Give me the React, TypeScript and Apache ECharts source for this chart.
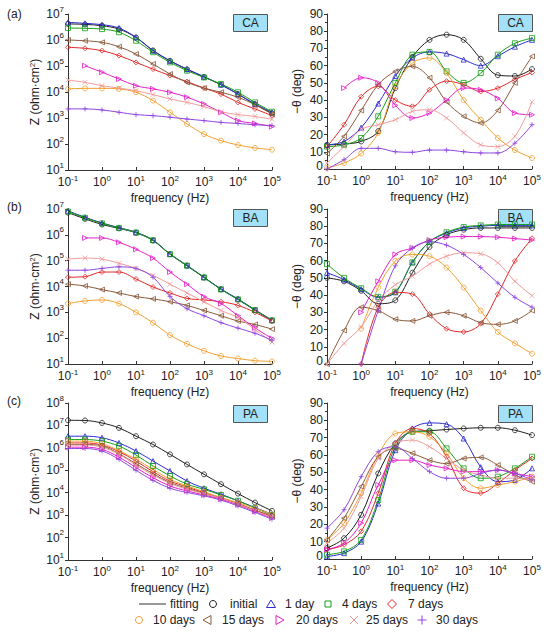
import React, { useEffect, useRef } from 'react';
import * as echarts from 'echarts';

// ---------- data ----------
const FREQ = [0.1, 0.316, 1, 3.16, 10, 31.6, 100, 316, 1000, 3160, 10000, 31600, 100000];
const SERIES_NAMES = ['initial', '1 day', '4 days', '7 days', '10 days', '15 days', '20 days', '25 days', '30 days'];
const COLORS = ['#1e1e1e', '#2b2bd0', '#14a014', '#e02828', '#f2a031', '#8b5a3c', '#e51fc9', '#f09a9a', '#8f45e0'];
const PANEL_TAGS = ['CA', 'BA', 'PA'];
const ROW_LABELS = ['(a)', '(b)', '(c)'];

// log10 |Z| (ohm·cm²), rows follow SERIES_NAMES order
const CA_LOGZ: (number | null)[][] = [
  [6.62, 6.6, 6.55, 6.42, 6.1, 5.6, 5.2, 4.87, 4.58, 4.28, 3.92, 3.53, 3.18],
  [6.68, 6.64, 6.59, 6.46, 6.1, 5.59, 5.2, 4.88, 4.59, 4.28, 3.92, 3.54, 3.22],
  [6.46, 6.45, 6.42, 6.3, 5.97, 5.53, 5.14, 4.82, 4.56, 4.31, 3.99, 3.6, 3.24],
  [5.72, 5.68, 5.59, 5.4, 5.14, 4.88, 4.63, 4.4, 4.15, 3.92, 3.6, 3.35, 3.09],
  [4.12, 4.14, 4.14, 4.12, 3.99, 3.67, 3.22, 2.77, 2.38, 2.13, 1.96, 1.85, 1.78],
  [6.0, 5.97, 5.91, 5.74, 5.46, 5.08, 4.69, 4.37, 4.15, 3.99, 3.8, 3.51, 3.15],
  [null, 5.01, 4.76, 4.5, 4.24, 4.12, 3.99, 3.8, 3.54, 3.22, 2.9, 2.79, 2.67],
  [4.46, 4.37, 4.24, 4.15, 4.05, 3.9, 3.73, 3.6, 3.44, 3.24, 3.13, 3.06, 2.95],
  [3.35, 3.35, 3.31, 3.22, 3.13, 3.09, 3.03, 2.96, 2.9, 2.83, 2.79, 2.74, 2.71],
];
const BA_LOGZ: (number | null)[][] = [
  [6.86, 6.62, 6.4, 6.25, 6.08, 5.78, 5.25, 4.8, 4.35, 3.89, 3.5, 3.08, 2.68],
  [6.93, 6.68, 6.46, 6.28, 6.1, 5.8, 5.26, 4.82, 4.36, 3.9, 3.52, 3.1, 2.7],
  [6.9, 6.66, 6.44, 6.27, 6.09, 5.79, 5.25, 4.81, 4.35, 3.89, 3.5, 3.09, 2.69],
  [4.36, 4.38, 4.56, 4.56, 4.29, 3.98, 3.75, 3.54, 3.48, 3.41, 3.27, 3.0, 2.66],
  [3.34, 3.44, 3.48, 3.34, 3.0, 2.6, 2.12, 1.78, 1.51, 1.31, 1.21, 1.13, 1.1],
  [4.09, 4.02, 3.88, 3.75, 3.61, 3.52, 3.41, 3.27, 3.07, 2.87, 2.66, 2.53, 2.35],
  [null, 5.88, 5.88, 5.71, 5.44, 5.1, 4.56, 4.09, 3.61, 3.34, 2.87, 2.4, 1.99],
  [5.06, 5.1, 5.06, 4.9, 4.7, 4.43, 4.09, 3.75, 3.41, 3.07, 2.8, 2.33, 1.85],
  [4.63, 4.63, 4.7, 4.76, 4.7, 4.36, 3.61, 3.14, 2.87, 2.6, 2.39, 2.19, 1.92],
];
const PA_LOGZ: (number | null)[][] = [
  [7.23, 7.22, 7.11, 6.89, 6.52, 6.15, 5.71, 5.26, 4.82, 4.38, 3.96, 3.56, 3.19],
  [6.52, 6.52, 6.45, 6.22, 5.86, 5.41, 4.97, 4.52, 4.2, 3.93, 3.64, 3.34, 3.04],
  [6.37, 6.37, 6.3, 6.08, 5.68, 5.19, 4.75, 4.38, 4.15, 3.9, 3.64, 3.31, 3.01],
  [6.22, 6.22, 6.12, 5.83, 5.41, 4.94, 4.52, 4.26, 4.0, 3.78, 3.52, 3.22, 2.97],
  [6.3, 6.3, 6.18, 5.88, 5.49, 5.04, 4.6, 4.3, 4.05, 3.78, 3.56, 3.31, 3.04],
  [6.15, 6.15, 6.08, 5.74, 5.29, 4.85, 4.45, 4.2, 3.96, 3.75, 3.49, 3.22, 2.93],
  [6.03, 6.03, 5.93, 5.59, 5.12, 4.67, 4.3, 4.08, 3.9, 3.71, 3.46, 3.16, 2.87],
  [6.12, 6.12, 6.03, 5.71, 5.23, 4.79, 4.41, 4.15, 3.96, 3.75, 3.49, 3.19, 2.9],
  [5.97, 5.97, 5.86, 5.49, 5.0, 4.55, 4.2, 4.01, 3.86, 3.67, 3.41, 3.12, 2.82],
];

// -theta (deg), rows follow SERIES_NAMES order
const CA_PHASE: (number | null)[][] = [
  [14, 14.5, 16, 22, 47, 65, 75, 78, 75, 64, 54.5, 54, 58],
  [14, 16, 24, 38, 54, 64.5, 68, 67, 63.5, 60, 65.5, 71, 75],
  [13, 14, 18, 30.6, 50, 66.4, 68, 56.7, 50, 55.7, 66.4, 73, 76],
  [13, 25.7, 42, 48, 40, 36.4, 46, 51, 49, 45, 47, 52, 56],
  [0.6, 3.5, 9, 21, 48, 61.5, 64.5, 55.7, 40, 28.6, 18, 11, 6.4],
  [9, 19, 34, 49, 56.7, 59.6, 53, 39, 30.6, 26.7, 34, 50, 65.4],
  [null, 47, 53, 50, 37, 29.6, 32.5, 40, 47, 46, 41, 32.5, 31.5],
  [3.5, 13, 23, 25.7, 28.6, 33.5, 34.4, 29.6, 21, 14, 13, 19, 39],
  [0, 5.4, 12, 12, 10, 9.7, 11, 11, 10, 9.3, 9.3, 15, 25.7],
];
const BA_PHASE: (number | null)[][] = [
  [50, 48, 42.5, 35, 37, 53, 68, 75, 78, 79, 79, 79, 79],
  [53, 49, 43.5, 38.7, 41.6, 59, 71, 76, 79, 80, 80.5, 80.5, 80.5],
  [58, 50, 44, 39, 42, 59, 71, 76.5, 79.5, 80.5, 81, 81, 81],
  [null, null, 0, 33, 41.6, 40.6, 29, 20.5, 18.6, 23.4, 40.6, 59.8, 73],
  [null, null, 20.5, 44.4, 59.8, 63.6, 62.6, 56, 44.4, 31, 18.6, 12, 6],
  [0, 19.5, 33, 31, 26, 25, 28, 30, 28, 24, 23, 25, 31],
  [null, null, 30, 48, 63.6, 67.4, 72, 73.6, 74, 74, 73.6, 72.8, 72],
  [0, 12, 21.5, 36.8, 46, 51, 58, 62.6, 64.6, 64, 58.8, 48, 39.7],
  [null, null, 0, 31, 57, 67.4, 71, 69, 63.6, 56, 47, 38.7, 33],
];
const PA_PHASE: (number | null)[][] = [
  [6.3, 12, 25.5, 49.4, 66.7, 73.4, 74, 74.7, 75.3, 75.7, 75.7, 74.3, 71.5],
  [1.5, 3.4, 10, 32, 62.8, 75.3, 78.5, 77.8, 69.5, 53, 44.6, 45.6, 52.3],
  [2.5, 4.4, 11, 34, 64.8, 73.4, 73.4, 63.8, 52.3, 46.6, 47.5, 52.3, 59],
  [5.4, 8.2, 16, 38, 66.7, 75.3, 72.4, 59, 40.8, 38, 43.7, 51.3, 58],
  [11, 20.7, 38, 60, 72.4, 73.4, 70.5, 61, 46.6, 40.8, 42.7, 44.6, 47.5],
  [11, 23.6, 41.8, 59, 63.8, 61, 57, 55, 58, 58.6, 54.2, 48.5, 44.6],
  [5.4, 9.2, 20.7, 42.7, 57, 57, 54.2, 52.3, 50.4, 50.4, 51.3, 49.4, 47.5],
  [9.2, 17.8, 36, 58, 66.7, 68.6, 64.8, 58, 51.3, 48.5, 46.6, 46.6, 45.6],
  [17.8, 28.4, 47.5, 61.9, 64.8, 58, 50.4, 46.6, 46.6, 49.4, 51.3, 49.4, 45.6],
];

// ---------- styling ----------
const FONT = '"Liberation Sans", Arial, Helvetica, sans-serif';
const TEXT = '#222';
const AXIS = '#333';
const SYMBOLS = [
  'circle',
  'triangle',
  'rect',
  'diamond',
  'circle',
  'path://M0,5L10,0L10,10Z',
  'path://M10,5L0,0L0,10Z',
  'path://M0,0L10,10M10,0L0,10',
  'path://M5,0L5,10M0,5L10,5',
];

const GRIDS = [
  { left: 68, top: 14, width: 204, height: 156 },
  { left: 327, top: 14, width: 205, height: 155 },
  { left: 68, top: 209, width: 204, height: 155 },
  { left: 327, top: 209, width: 205, height: 155 },
  { left: 68, top: 403, width: 204, height: 157 },
  { left: 327, top: 403, width: 205, height: 156 },
];

const RICH_Y = {
  b: { fontSize: 12, lineHeight: 12, fontFamily: FONT, color: TEXT, verticalAlign: 'bottom' },
  s: { fontSize: 8, lineHeight: 8, fontFamily: FONT, color: TEXT, padding: [0, 0, 7, 0], verticalAlign: 'bottom' },
};
const RICH_X = {
  b: { fontSize: 12, lineHeight: 12, fontFamily: FONT, color: TEXT, verticalAlign: 'bottom' },
  s: { fontSize: 8, lineHeight: 8, fontFamily: FONT, color: TEXT, padding: [0, 0, 6, 0], verticalAlign: 'bottom' },
};
const RICH_PHASE = {
  n: { fontSize: 12, lineHeight: 12, fontFamily: FONT, color: TEXT },
  z: { fontSize: 12, lineHeight: 12, fontFamily: FONT, color: TEXT, padding: [0, 0, 6, 0] },
};

function powLabel(v: number) {
  const e = Math.round(Math.log10(v));
  return `{b|10}{s|${e}}`;
}
function phaseLabel(v: number) {
  return v === 0 ? '{z|0}' : `{n|${v}}`;
}

function buildOption() {
  const zSets = [CA_LOGZ, BA_LOGZ, PA_LOGZ];
  const pSets = [CA_PHASE, BA_PHASE, PA_PHASE];
  const zMax = [1e7, 1e7, 1e8];

  const xAxis: any[] = [];
  const yAxis: any[] = [];
  const series: any[] = [];

  GRIDS.forEach((_, gi) => {
    const row = Math.floor(gi / 2);
    const isZ = gi % 2 === 0;
    xAxis.push({
      type: 'log',
      logBase: 10,
      gridIndex: gi,
      min: 0.1,
      max: 100000,
      name: 'frequency (Hz)',
      nameLocation: 'middle',
      nameGap: 22,
      nameTextStyle: { fontFamily: FONT, fontSize: 12, color: TEXT },
      axisLine: { show: true, lineStyle: { color: AXIS, width: 1 } },
      axisTick: { show: true, inside: true, length: 3, lineStyle: { color: AXIS } },
      splitLine: { show: false },
      axisLabel: { formatter: powLabel, rich: RICH_X, margin: 6, showMinLabel: true, showMaxLabel: true },
    });
    if (isZ) {
      yAxis.push({
        type: 'log',
        logBase: 10,
        gridIndex: gi,
        min: 10,
        max: zMax[row],
        name: 'Z (ohm·cm{s|2})',
        nameLocation: 'middle',
        nameGap: 26,
        nameTextStyle: {
          fontFamily: FONT,
          fontSize: 12,
          color: TEXT,
          rich: { s: { fontSize: 8, fontFamily: FONT, color: TEXT, padding: [0, 0, 6, 0], verticalAlign: 'bottom' } },
        },
        axisLine: { show: true, lineStyle: { color: AXIS, width: 1 } },
        axisTick: { show: true, length: 3, lineStyle: { color: AXIS } },
        splitLine: { show: false },
        axisLabel: { formatter: powLabel, rich: RICH_Y, margin: 4, showMinLabel: true, showMaxLabel: true },
      });
    } else {
      yAxis.push({
        type: 'value',
        gridIndex: gi,
        min: 0,
        max: 90,
        interval: 10,
        name: '−θ (deg)',
        nameLocation: 'middle',
        nameGap: 24,
        nameTextStyle: { fontFamily: FONT, fontSize: 12, color: TEXT },
        axisLine: { show: true, lineStyle: { color: AXIS, width: 1 } },
        axisTick: { show: true, length: 3, lineStyle: { color: AXIS } },
        minorTick: { show: true, splitNumber: 2, length: 2, lineStyle: { color: AXIS } },
        splitLine: { show: false },
        axisLabel: { formatter: phaseLabel, rich: RICH_PHASE, margin: 4 },
      });
    }

    const sets = isZ ? zSets[row] : pSets[row];
    sets.forEach((vals, si) => {
      const pts: [number, number][] = [];
      vals.forEach((v, i) => {
        if (v === null) return;
        pts.push([FREQ[i], isZ ? Math.pow(10, v) : v]);
      });
      const color = COLORS[si];
      series.push({
        type: 'line',
        name: 'fit ' + SERIES_NAMES[si],
        xAxisIndex: gi,
        yAxisIndex: gi,
        data: pts,
        smooth: 0.35,
        showSymbol: false,
        symbol: 'none',
        silent: true,
        lineStyle: { color, width: 1 },
        z: 2,
      });
      series.push({
        type: 'scatter',
        name: SERIES_NAMES[si],
        xAxisIndex: gi,
        yAxisIndex: gi,
        data: pts,
        symbol: SYMBOLS[si],
        symbolSize: 5,
        itemStyle: { color: 'rgba(255,255,255,0)', borderColor: color, borderWidth: 1 },
        z: 3,
      });
    });
  });

  const graphic: any[] = [];
  // row labels
  const labelYs = [15, 208, 402];
  ROW_LABELS.forEach((t, r) => {
    graphic.push({
      type: 'text',
      left: 7,
      top: labelYs[r] - 7,
      style: { text: t, font: `12px ${FONT}`, fill: TEXT },
    });
  });
  // tag boxes
  const boxYs = [14, 209, 405];
  PANEL_TAGS.forEach((tag, r) => {
    [233, 498].forEach((bx) => {
      graphic.push({
        type: 'group',
        left: bx,
        top: boxYs[r],
        children: [
          {
            type: 'rect',
            shape: { x: 0, y: 0, width: 34, height: 17 },
            style: { fill: '#a2e1f7', stroke: '#555', lineWidth: 1 },
          },
          {
            type: 'text',
            x: 17,
            y: 8.5,
            style: { text: tag, font: `12px ${FONT}`, fill: TEXT, align: 'center', verticalAlign: 'middle' },
          },
        ],
      });
    });
  });

  // legend
  const legendText = (t: string, x: number, y: number) => ({
    type: 'text',
    x,
    y,
    style: { text: t, font: `12px ${FONT}`, fill: TEXT, verticalAlign: 'middle' },
  });
  const st = (c: string) => ({ fill: 'none', stroke: c, lineWidth: 1 });
  const y1 = 604;
  const y2 = 620;
  graphic.push({ type: 'line', shape: { x1: 139, y1: y1, x2: 166, y2: y1 }, style: { stroke: '#333', lineWidth: 1 } });
  graphic.push(legendText('fitting', 170, y1));
  graphic.push({ type: 'circle', shape: { cx: 213, cy: y1, r: 3.5 }, style: st(COLORS[0]) });
  graphic.push(legendText(SERIES_NAMES[0], 230, y1));
  graphic.push({ type: 'polygon', shape: { points: [[271, y1 - 4], [275.5, y1 + 3.5], [266.5, y1 + 3.5]] }, style: st(COLORS[1]) });
  graphic.push(legendText(SERIES_NAMES[1], 285, y1));
  graphic.push({ type: 'rect', shape: { x: 325, y: y1 - 3, width: 6, height: 6 }, style: st(COLORS[2]) });
  graphic.push(legendText(SERIES_NAMES[2], 342, y1));
  graphic.push({ type: 'polygon', shape: { points: [[392, y1 - 4.5], [396.5, y1], [392, y1 + 4.5], [387.5, y1]] }, style: st(COLORS[3]) });
  graphic.push(legendText(SERIES_NAMES[3], 408, y1));

  graphic.push({ type: 'circle', shape: { cx: 139, cy: y2, r: 3.5 }, style: st(COLORS[4]) });
  graphic.push(legendText(SERIES_NAMES[4], 153, y2));
  graphic.push({ type: 'polygon', shape: { points: [[203, y2], [211, y2 - 4.5], [211, y2 + 4.5]] }, style: st(COLORS[5]) });
  graphic.push(legendText(SERIES_NAMES[5], 222, y2));
  graphic.push({ type: 'polygon', shape: { points: [[284, y2], [276, y2 - 4.5], [276, y2 + 4.5]] }, style: st(COLORS[6]) });
  graphic.push(legendText(SERIES_NAMES[6], 296, y2));
  graphic.push({ type: 'line', shape: { x1: 350, y1: y2 - 4, x2: 358, y2: y2 + 4 }, style: { stroke: COLORS[7], lineWidth: 1 } });
  graphic.push({ type: 'line', shape: { x1: 358, y1: y2 - 4, x2: 350, y2: y2 + 4 }, style: { stroke: COLORS[7], lineWidth: 1 } });
  graphic.push(legendText(SERIES_NAMES[7], 366, y2));
  graphic.push({ type: 'line', shape: { x1: 422, y1: y2 - 4.5, x2: 422, y2: y2 + 4.5 }, style: { stroke: COLORS[8], lineWidth: 1 } });
  graphic.push({ type: 'line', shape: { x1: 417.5, y1: y2, x2: 426.5, y2: y2 }, style: { stroke: COLORS[8], lineWidth: 1 } });
  graphic.push(legendText(SERIES_NAMES[8], 436, y2));

  return {
    animation: false,
    backgroundColor: '#ffffff',
    textStyle: { fontFamily: FONT },
    grid: GRIDS.map((g) => ({ ...g, containLabel: false })),
    xAxis,
    yAxis,
    series,
    graphic,
  };
}

export default function App() {
  const ref = useRef<HTMLDivElement>(null);
  useEffect(() => {
    if (!ref.current) return;
    const chart = echarts.init(ref.current, null, { renderer: 'svg' });
    chart.setOption(buildOption() as any);
    return () => chart.dispose();
  }, []);
  return (
    <div
      ref={ref}
      style={{ position: 'absolute', left: 0, top: 0, width: 550, height: 636, background: '#fff' }}
    />
  );
}
